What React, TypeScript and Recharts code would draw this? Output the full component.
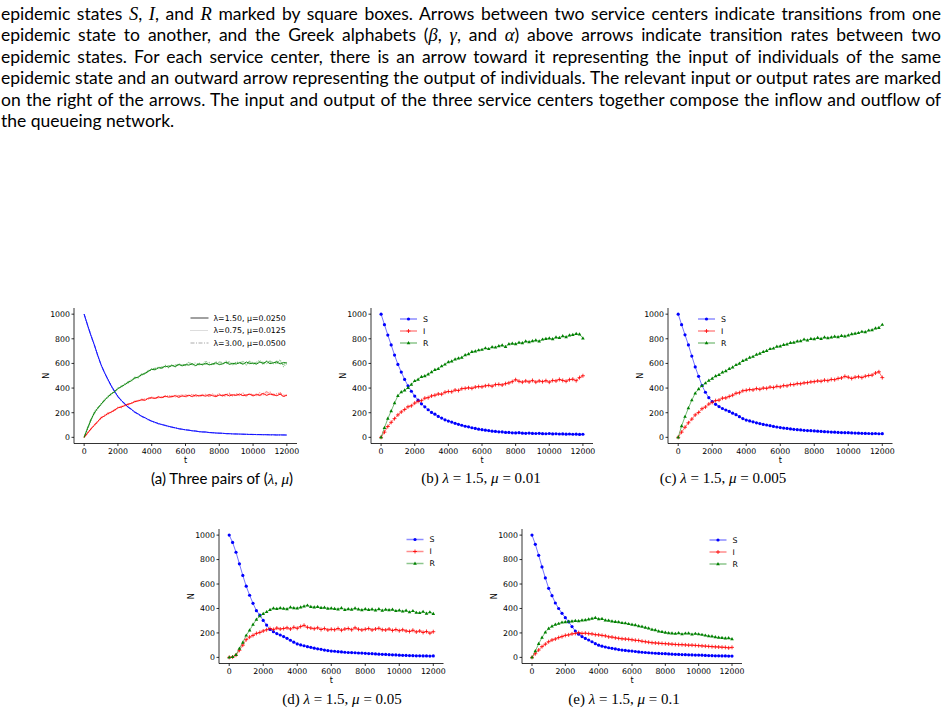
import React from "react";
import { LineChart, Line, XAxis, YAxis } from "recharts";

// time grid, one point every 200 steps
const T = Array.from({ length: 61 }, (_, i) => i * 200);
const X_TICKS = [0, 2000, 4000, 6000, 8000, 10000, 12000];
const Y_TICKS = [0, 200, 400, 600, 800, 1000];

// (a) three pairs of (lambda, mu): solid, dotted, dash-dot
const aS1 = [1000, 912, 828, 752, 667, 590, 527, 472, 419, 373, 331, 299, 273, 246, 227, 204, 189, 171, 159, 144, 131, 122, 111, 104, 97, 89, 83, 77, 70, 66, 61, 58, 53, 51, 46, 44, 43, 39, 38, 35, 34, 33, 30, 30, 28, 27, 27, 25, 25, 23, 24, 22, 23, 21, 22, 20, 21, 19, 20, 19, 19];
const aS2 = [1000, 908, 832, 748, 671, 586, 531, 468, 423, 369, 335, 296, 276, 243, 230, 201, 192, 168, 162, 141, 134, 119, 114, 101, 99, 87, 85, 75, 72, 64, 62, 56, 55, 49, 47, 43, 44, 38, 39, 34, 35, 31, 31, 29, 27, 28, 26, 26, 24, 24, 23, 23, 22, 22, 21, 21, 20, 20, 19, 20, 18];
const aS3 = [1000, 915, 825, 755, 663, 594, 524, 475, 416, 376, 328, 302, 270, 249, 224, 207, 186, 174, 156, 147, 128, 125, 108, 106, 94, 91, 81, 78, 69, 67, 60, 59, 52, 52, 45, 45, 42, 40, 37, 36, 33, 34, 29, 31, 27, 28, 25, 27, 24, 25, 22, 24, 21, 23, 20, 22, 19, 21, 18, 20, 19];
const aI1 = [0, 34, 68, 98, 127, 158, 174, 192, 205, 220, 240, 246, 258, 268, 276, 290, 296, 305, 300, 318, 320, 316, 328, 322, 334, 326, 330, 338, 324, 336, 332, 342, 330, 345, 336, 340, 334, 348, 338, 330, 344, 338, 350, 336, 346, 340, 352, 338, 344, 350, 336, 348, 342, 358, 340, 352, 345, 338, 350, 332, 342];
const aI2 = [0, 30, 72, 94, 132, 152, 180, 186, 210, 215, 246, 240, 264, 262, 282, 285, 302, 298, 312, 310, 326, 322, 320, 330, 328, 340, 325, 345, 330, 348, 326, 338, 350, 328, 344, 335, 352, 330, 346, 340, 355, 332, 345, 358, 335, 348, 342, 360, 332, 352, 345, 338, 362, 345, 350, 368, 340, 355, 362, 330, 348];
const aI3 = [0, 38, 64, 102, 122, 162, 170, 198, 200, 226, 234, 252, 254, 274, 272, 295, 292, 310, 306, 315, 324, 312, 332, 318, 338, 330, 336, 328, 340, 332, 345, 335, 342, 338, 330, 348, 340, 335, 352, 336, 342, 346, 332, 350, 340, 355, 338, 348, 340, 356, 342, 352, 338, 348, 372, 345, 350, 342, 358, 345, 338];
const aR1 = [0, 72, 141, 198, 236, 268, 301, 328, 352, 370, 396, 411, 428, 446, 460, 482, 488, 509, 518, 537, 552, 548, 565, 562, 578, 571, 583, 575, 592, 580, 591, 586, 598, 583, 596, 590, 602, 588, 595, 605, 590, 598, 610, 592, 601, 595, 606, 593, 612, 598, 603, 594, 611, 600, 616, 598, 605, 612, 596, 608, 604];
const aR2 = [0, 65, 134, 205, 242, 262, 308, 321, 358, 365, 402, 405, 434, 440, 468, 476, 495, 502, 525, 531, 558, 556, 571, 558, 585, 566, 590, 572, 598, 585, 588, 612, 590, 578, 604, 585, 620, 595, 588, 612, 598, 590, 618, 602, 596, 612, 598, 620, 588, 615, 592, 610, 625, 590, 620, 605, 612, 595, 630, 575, 600];
const aR3 = [0, 78, 146, 192, 230, 274, 296, 334, 346, 377, 390, 418, 422, 452, 455, 488, 482, 515, 512, 544, 546, 562, 558, 572, 570, 583, 578, 588, 584, 595, 582, 600, 592, 605, 588, 598, 592, 608, 598, 590, 612, 605, 598, 615, 590, 608, 612, 600, 596, 618, 606, 600, 615, 608, 598, 620, 598, 618, 606, 592, 610];

// (b) lambda = 1.5, mu = 0.01
const bS = [1000, 915, 830, 750, 668, 592, 530, 470, 418, 374, 335, 302, 272, 248, 224, 202, 188, 170, 156, 142, 132, 124, 114, 106, 98, 90, 85, 78, 72, 66, 62, 58, 55, 50, 48, 45, 44, 40, 40, 37, 36, 38, 34, 33, 35, 32, 31, 33, 30, 29, 31, 28, 29, 27, 28, 26, 27, 25, 26, 24, 25];
const bI = [0, 42, 88, 122, 152, 182, 206, 226, 248, 256, 278, 292, 298, 318, 322, 336, 342, 352, 350, 366, 372, 370, 384, 380, 395, 398, 402, 398, 408, 412, 410, 418, 422, 415, 428, 430, 425, 436, 442, 452, 468, 455, 448, 458, 450, 462, 448, 458, 452, 460, 448, 462, 458, 470, 462, 455, 468, 472, 460, 485, 500];
const bR = [0, 78, 152, 214, 278, 338, 368, 382, 402, 428, 458, 470, 492, 498, 512, 530, 548, 556, 578, 592, 612, 618, 634, 642, 648, 668, 676, 694, 698, 708, 712, 724, 718, 734, 730, 742, 748, 736, 758, 762, 758, 770, 765, 780, 774, 782, 788, 780, 795, 800, 804, 798, 812, 808, 822, 815, 828, 832, 840, 836, 805];

// (c) lambda = 1.5, mu = 0.005
const cS = [1000, 915, 832, 750, 660, 572, 495, 420, 366, 322, 290, 268, 250, 234, 222, 210, 196, 184, 168, 152, 140, 133, 126, 118, 112, 105, 100, 95, 89, 84, 79, 75, 72, 68, 65, 62, 60, 57, 55, 54, 52, 50, 48, 46, 45, 43, 42, 40, 39, 38, 38, 36, 35, 34, 33, 32, 31, 30, 31, 29, 30];
const cI = [0, 42, 82, 118, 148, 182, 202, 232, 246, 270, 284, 298, 302, 318, 320, 332, 342, 358, 362, 378, 382, 388, 385, 396, 390, 400, 398, 408, 404, 414, 410, 420, 418, 428, 428, 436, 435, 442, 444, 450, 452, 458, 455, 464, 460, 470, 468, 478, 482, 495, 488, 478, 488, 492, 485, 496, 502, 505, 522, 532, 485];
const cR = [0, 92, 168, 238, 302, 358, 392, 418, 440, 462, 478, 498, 508, 528, 538, 556, 568, 588, 600, 622, 632, 648, 655, 672, 680, 695, 702, 718, 722, 738, 740, 752, 756, 768, 770, 780, 782, 795, 788, 800, 798, 808, 800, 812, 806, 812, 818, 815, 825, 820, 828, 838, 842, 848, 858, 855, 868, 872, 885, 890, 915];

// (d) lambda = 1.5, mu = 0.05
const dS = [1000, 940, 860, 765, 670, 582, 508, 442, 382, 345, 302, 264, 228, 210, 195, 183, 170, 156, 140, 124, 110, 102, 95, 88, 82, 75, 70, 66, 60, 56, 52, 50, 47, 45, 42, 40, 39, 38, 36, 35, 33, 31, 30, 28, 26, 25, 24, 22, 21, 20, 18, 17, 16, 15, 14, 13, 13, 12, 12, 11, 12];
const dI = [0, 3, 18, 58, 100, 145, 166, 180, 196, 204, 216, 226, 236, 228, 240, 232, 236, 242, 232, 246, 238, 252, 262, 246, 240, 234, 242, 228, 236, 224, 230, 226, 236, 222, 232, 236, 226, 242, 230, 224, 230, 236, 224, 232, 238, 226, 224, 232, 220, 228, 218, 226, 216, 212, 222, 208, 216, 204, 212, 198, 210];
const dR = [0, 4, 22, 72, 122, 180, 222, 268, 310, 338, 356, 372, 390, 402, 398, 404, 400, 396, 410, 404, 402, 410, 418, 425, 414, 410, 414, 405, 408, 400, 402, 398, 394, 404, 390, 396, 392, 402, 394, 388, 396, 390, 394, 386, 396, 384, 392, 388, 392, 380, 386, 376, 384, 370, 380, 366, 364, 374, 358, 370, 356];

// (e) lambda = 1.5, mu = 0.1
const eS = [1000, 925, 835, 740, 650, 565, 505, 445, 400, 360, 325, 290, 252, 216, 190, 170, 155, 142, 128, 112, 100, 92, 85, 79, 74, 69, 64, 60, 57, 54, 52, 48, 45, 42, 40, 38, 36, 34, 32, 31, 30, 28, 26, 25, 24, 23, 22, 21, 20, 19, 19, 18, 16, 15, 14, 13, 13, 12, 12, 11, 11];
const eI = [0, 30, 60, 88, 108, 128, 142, 150, 162, 170, 180, 184, 192, 196, 202, 196, 198, 194, 192, 186, 184, 180, 176, 168, 166, 160, 156, 152, 150, 148, 144, 140, 138, 132, 128, 124, 120, 118, 116, 114, 112, 110, 108, 106, 104, 104, 102, 100, 100, 98, 96, 94, 92, 90, 88, 86, 85, 83, 82, 78, 82];
const eR = [0, 52, 112, 162, 206, 236, 254, 268, 276, 286, 290, 294, 296, 300, 298, 304, 306, 312, 318, 324, 314, 316, 304, 302, 296, 292, 290, 282, 280, 274, 268, 264, 256, 252, 244, 238, 228, 224, 214, 210, 204, 200, 198, 194, 200, 190, 196, 198, 188, 194, 190, 186, 180, 174, 172, 166, 162, 160, 156, 158, 150];

const A_LABELS = ["λ=1.50, μ=0.0250", "λ=0.75, μ=0.0125", "λ=3.00, μ=0.0500"];

const FONT = "'DejaVu Sans', sans-serif";
const YW = 48;
const MT = 6;
const MR = 6;
const XH = 30;

const rowsOf = (cols: Record<string, number[]>) =>
  T.map((t, i) => {
    const r: any = { t };
    for (const k in cols) r[k] = cols[k][i];
    return r;
  });

const circleDot = (c: string) => (p: any) =>
  <circle key={`c${p.index}`} cx={p.cx} cy={p.cy} r={1.6} fill={c} />;
const plusDot = (c: string) => (p: any) =>
  <path key={`p${p.index}`} d={`M${p.cx - 2},${p.cy}h4M${p.cx},${p.cy - 2}v4`} stroke={c} strokeWidth={0.8} fill="none" />;
const triDot = (c: string) => (p: any) =>
  <path key={`t${p.index}`} d={`M${p.cx},${p.cy - 2}l1.8,3.2h-3.6z`} fill={c} />;

const XTick = (p: any) => (
  <text x={p.x} y={p.y} dy={7} textAnchor="middle" fontSize={7.8} fontFamily={FONT} fill="#000">
    {p.payload.value}
  </text>
);
const YTick = (p: any) => (
  <text x={p.x} y={p.y} dy={2.8} textAnchor="end" fontSize={7.8} fontFamily={FONT} fill="#000">
    {p.payload.value}
  </text>
);

type LineSpec = { key: string; color: string; opacity?: number; dash?: string; width?: number; dot?: any };

function Panel(props: { fx: number; fy: number; fw: number; fh: number; rows: any[]; lines: LineSpec[]; legend: React.ReactNode }) {
  const { fx, fy, fw, fh, rows, lines, legend } = props;
  return (
    <div style={{ position: "absolute", left: fx - YW, top: fy - MT }}>
      <LineChart width={YW + fw + MR} height={MT + fh + XH} data={rows} margin={{ top: MT, right: MR, bottom: 0, left: 0 }}>
        <XAxis
          dataKey="t" type="number" domain={[-600, 12600]} ticks={X_TICKS} interval={0} allowDataOverflow
          height={XH} tickSize={2.5} tickMargin={0.5} stroke="#000" strokeWidth={0.8} tick={<XTick />}
        />
        <XAxis xAxisId="top" orientation="top" type="number" domain={[0, 1]} height={0} tick={false} tickLine={false} stroke="#000" strokeWidth={0.8} />
        <YAxis
          type="number" domain={[-50, 1050]} ticks={Y_TICKS} interval={0} allowDataOverflow
          width={YW} tickSize={2.5} tickMargin={1.5} stroke="#000" strokeWidth={0.8} tick={<YTick />}
        />
        <YAxis yAxisId="right" orientation="right" type="number" domain={[0, 1]} width={0} tick={false} tickLine={false} stroke="#000" strokeWidth={0.8} />
        {lines.map((l) => (
          <Line
            key={l.key} dataKey={l.key} type="linear" stroke={l.color} strokeOpacity={l.opacity ?? 1}
            strokeWidth={l.width ?? 1} strokeDasharray={l.dash} dot={l.dot ?? false} activeDot={false}
            isAnimationActive={false}
          />
        ))}
      </LineChart>
      {/* legend and axis titles, origin at the plot's top-left corner */}
      <svg width={fw} height={fh} style={{ position: "absolute", left: YW, top: MT, overflow: "visible", pointerEvents: "none" }}>
        {legend}
        <g fontSize={8} fontFamily={FONT} fill="#000">
          <text x={fw / 2} y={fh + 19} textAnchor="middle">t</text>
          <text x={-28.5} y={fh / 2} dy={3} textAnchor="middle" transform={`rotate(-90 -28.5 ${fh / 2})`}>N</text>
        </g>
      </svg>
    </div>
  );
}

function SirLegend(props: { lx: number; ly: number }) {
  const { lx, ly } = props;
  const items = [
    { name: "S", color: "#0000ff", mark: circleDot("#0000ff") },
    { name: "I", color: "#ff0000", mark: plusDot("#ff0000") },
    { name: "R", color: "#008000", mark: triDot("#008000") },
  ];
  return (
    <g>
      {items.map((it, i) => {
        const y = ly + i * 12;
        return (
          <g key={it.name}>
            <line x1={lx} x2={lx + 17} y1={y} y2={y} stroke={it.color} strokeOpacity={0.45} strokeWidth={1.5} />
            {it.mark({ cx: lx + 8.5, cy: y, index: i })}
            <text x={lx + 23} y={y} dy={2.8} fontSize={7.8} fontFamily={FONT}>{it.name}</text>
          </g>
        );
      })}
    </g>
  );
}

function ALegend(props: { lx: number; ly: number }) {
  const { lx, ly } = props;
  const styles = [
    { stroke: "#777", dash: undefined, w: 1.4 },
    { stroke: "#bbb", dash: "1 1", w: 1 },
    { stroke: "#aaa", dash: "4 1.5 1 1.5", w: 1 },
  ];
  return (
    <g>
      {A_LABELS.map((name, i) => {
        const y = ly + i * 12.5;
        return (
          <g key={name}>
            <line x1={lx} x2={lx + 18} y1={y} y2={y} stroke={styles[i].stroke} strokeDasharray={styles[i].dash} strokeWidth={styles[i].w} />
            <text x={lx + 23} y={y} dy={2.8} fontSize={7.8} fontFamily={FONT}>{name}</text>
          </g>
        );
      })}
    </g>
  );
}

const sirLines: LineSpec[] = [
  { key: "S", color: "#0000ff", opacity: 0.55, dot: circleDot("#0000ff") },
  { key: "I", color: "#ff0000", opacity: 0.55, dot: plusDot("#ff0000") },
  { key: "R", color: "#008000", opacity: 0.55, dot: triDot("#008000") },
];

const aLines: LineSpec[] = [
  { key: "S2", color: "#0000ff", opacity: 0.45, dash: "1 1", width: 1.2 },
  { key: "I2", color: "#ff0000", opacity: 0.45, dash: "1 1", width: 1.2 },
  { key: "R2", color: "#008000", opacity: 0.45, dash: "1 1", width: 1.2 },
  { key: "S3", color: "#0000ff", opacity: 0.4, dash: "4 1.5 1 1.5", width: 1.2 },
  { key: "I3", color: "#ff0000", opacity: 0.4, dash: "4 1.5 1 1.5", width: 1.2 },
  { key: "R3", color: "#008000", opacity: 0.4, dash: "4 1.5 1 1.5", width: 1.2 },
  { key: "S1", color: "#0000ff", width: 0.9 },
  { key: "I1", color: "#ff0000", width: 0.9 },
  { key: "R1", color: "#008000", width: 0.9 },
];

const M = (p: { children: React.ReactNode; size?: number }) => (
  <span style={{ fontFamily: "'Liberation Serif', serif", fontStyle: "italic", fontSize: p.size ?? 18.5 }}>{p.children}</span>
);

const lineStyle: React.CSSProperties = { height: 21.4, lineHeight: "21.4px", whiteSpace: "nowrap", textAlign: "justify", textAlignLast: "justify" };

function Caption(props: { cx: number; cy: number; children: React.ReactNode; sans?: boolean }) {
  return (
    <div style={{
      position: "absolute", left: props.cx - 150, top: props.cy - 10, width: 300, height: 20, lineHeight: "20px",
      textAlign: "center", whiteSpace: "nowrap", fontSize: 15,
      fontFamily: props.sans ? "Lato, sans-serif" : "'Liberation Serif', serif",
    }}>
      {props.children}
    </div>
  );
}

export default function App() {
  return (
    <div style={{ position: "absolute", left: 0, top: 0, width: 947, height: 714, background: "#fff", overflow: "hidden", color: "#000" }}>
      <div style={{ position: "absolute", left: 1, top: 3, width: 940, fontFamily: "Lato, sans-serif", fontSize: 17.5 }}>
        <div style={lineStyle}>epidemic states <M>S</M>, <M>I</M>, and <M>R</M> marked by square boxes. Arrows between two service centers indicate transitions from one</div>
        <div style={lineStyle}>epidemic state to another, and the Greek alphabets (<M>β</M>, <M>γ</M>, and <M>α</M>) above arrows indicate transition rates between two</div>
        <div style={lineStyle}>epidemic states. For each service center, there is an arrow toward it representing the input of individuals of the same</div>
        <div style={lineStyle}>epidemic state and an outward arrow representing the output of individuals. The relevant input or output rates are marked</div>
        <div style={lineStyle}>on the right of the arrows. The input and output of the three service centers together compose the inflow and outflow of</div>
        <div style={{ ...lineStyle, textAlign: "left", textAlignLast: "left" }}>the queueing network.</div>
      </div>

      <Panel fx={73.5} fy={308} fw={223} fh={135.5}
        rows={rowsOf({ S1: aS1, I1: aI1, R1: aR1, S2: aS2, I2: aI2, R2: aR2, S3: aS3, I3: aI3, R3: aR3 })}
        lines={aLines} legend={<ALegend lx={116.5} ly={10} />} />
      <Panel fx={371} fy={308} fw={222} fh={135.5} rows={rowsOf({ S: bS, I: bI, R: bR })} lines={sirLines} legend={<SirLegend lx={29} ly={11} />} />
      <Panel fx={668} fy={308} fw={224.5} fh={135.5} rows={rowsOf({ S: cS, I: cI, R: cR })} lines={sirLines} legend={<SirLegend lx={30} ly={11} />} />
      <Panel fx={219} fy={529} fw={224.5} fh={134.5} rows={rowsOf({ S: dS, I: dI, R: dR })} lines={sirLines} legend={<SirLegend lx={187.5} ly={10.5} />} />
      <Panel fx={522.3} fy={529} fw={220} fh={134.5} rows={rowsOf({ S: eS, I: eI, R: eR })} lines={sirLines} legend={<SirLegend lx={187.5} ly={11} />} />

      <Caption cx={222} cy={478} sans>(a) Three pairs of (<M size={15}>λ</M>, <M size={15}>μ</M>)</Caption>
      <Caption cx={481} cy={478}>(b) <M size={15}>λ</M> = 1.5, <M size={15}>μ</M> = 0.01</Caption>
      <Caption cx={723} cy={478}>(c) <M size={15}>λ</M> = 1.5, <M size={15}>μ</M> = 0.005</Caption>
      <Caption cx={342} cy={699}>(d) <M size={15}>λ</M> = 1.5, <M size={15}>μ</M> = 0.05</Caption>
      <Caption cx={624} cy={699}>(e) <M size={15}>λ</M> = 1.5, <M size={15}>μ</M> = 0.1</Caption>
    </div>
  );
}
